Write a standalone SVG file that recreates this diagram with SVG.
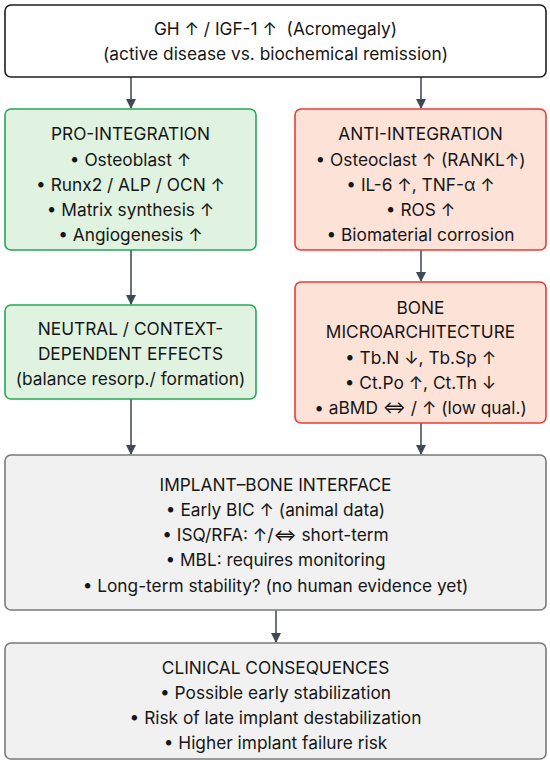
<svg xmlns="http://www.w3.org/2000/svg" width="550" height="765" viewBox="0 0 550 765">
<defs>
<marker id="ah" markerUnits="userSpaceOnUse" markerWidth="10" markerHeight="12" refX="9" refY="5" orient="auto">
<path d="M0,0 L10,5 L0,10 z" fill="#3f4955"/>
</marker>
<style>
text{font-family:Inter,"Liberation Sans","DejaVu Sans",sans-serif;font-size:17.3px;fill:#161616;text-anchor:middle}
.top{fill:#ffffff;stroke:#1e1e1e;stroke-width:1.6}
.pro{fill:#e0f3e0;stroke:#25a856;stroke-width:1.6}
.anti{fill:#fde2d8;stroke:#f03a34;stroke-width:1.6}
.gray{fill:#f1f1f1;stroke:#7a7a7a;stroke-width:1.6}
.conn line{stroke:#46505c;stroke-width:1.6;marker-end:url(#ah)}
</style>
</defs>
<g id="connectors" class="conn">
<line x1="131" y1="77" x2="131" y2="108"/>
<line x1="421" y1="77" x2="421" y2="108"/>
<line x1="131" y1="250" x2="131" y2="304"/>
<line x1="421" y1="250" x2="421" y2="281"/>
<line x1="131" y1="399" x2="131" y2="454"/>
<line x1="421" y1="423" x2="421" y2="454"/>
<line x1="276" y1="610" x2="276" y2="642"/>
</g>
<g id="n-top">
<rect class="top" x="5" y="5" width="541" height="72" rx="6"/>
<text x="275.5" y="35">GH ↑ / IGF-1 ↑&#160; (Acromegaly)</text>
<text x="275.5" y="60">(active disease vs. biochemical remission)</text>
</g>
<g id="n-pro">
<rect class="pro" x="5" y="109" width="251" height="141" rx="6"/>
<text x="130.5" y="139.5">PRO-INTEGRATION</text>
<text x="130.5" y="165.5">• Osteoblast ↑</text>
<text x="130.5" y="190.5">• Runx2 / ALP / OCN ↑</text>
<text x="130.5" y="215.5">• Matrix synthesis ↑</text>
<text x="130.5" y="240.5">• Angiogenesis ↑</text>
</g>
<g id="n-anti">
<rect class="anti" x="295" y="109" width="251" height="141" rx="6"/>
<text x="420.5" y="139.5">ANTI-INTEGRATION</text>
<text x="420.5" y="165.5">• Osteoclast ↑ (RANKL↑)</text>
<text x="420.5" y="190.5">• IL-6 ↑, TNF-α ↑</text>
<text x="420.5" y="215.5">• ROS ↑</text>
<text x="420.5" y="240.5">• Biomaterial corrosion</text>
</g>
<g id="n-neutral">
<rect class="pro" x="5" y="305" width="251" height="94" rx="6"/>
<text x="130.5" y="334.5">NEUTRAL / CONTEXT-</text>
<text x="130.5" y="359.5">DEPENDENT EFFECTS</text>
<text x="130.5" y="384.5">(balance resorp./ formation)</text>
</g>
<g id="n-bone">
<rect class="anti" x="295" y="282" width="251" height="141" rx="6"/>
<text x="420.5" y="313.5">BONE</text>
<text x="420.5" y="337.5">MICROARCHITECTURE</text>
<text x="420.5" y="363.5">• Tb.N ↓, Tb.Sp ↑</text>
<text x="420.5" y="388.5">• Ct.Po ↑, Ct.Th ↓</text>
<text x="420.5" y="413.5">• aBMD ⇔ / ↑ (low qual.)</text>
</g>
<g id="n-interface">
<rect class="gray" x="5" y="455" width="541" height="155" rx="6"/>
<text x="275.5" y="490.5">IMPLANT–BONE INTERFACE</text>
<text x="275.5" y="515.5">• Early BIC ↑ (animal data)</text>
<text x="275.5" y="540.5">• ISQ/RFA: ↑/⇔ short-term</text>
<text x="275.5" y="565.5">• MBL: requires monitoring</text>
<text x="275.5" y="591.5">• Long-term stability? (no human evidence yet)</text>
</g>
<g id="n-clinical">
<rect class="gray" x="5" y="643" width="541" height="116" rx="6"/>
<text x="275.5" y="673.5">CLINICAL CONSEQUENCES</text>
<text x="275.5" y="698.5">• Possible early stabilization</text>
<text x="275.5" y="723.5">• Risk of late implant destabilization</text>
<text x="275.5" y="748.5">• Higher implant failure risk</text>
</g>
</svg>
